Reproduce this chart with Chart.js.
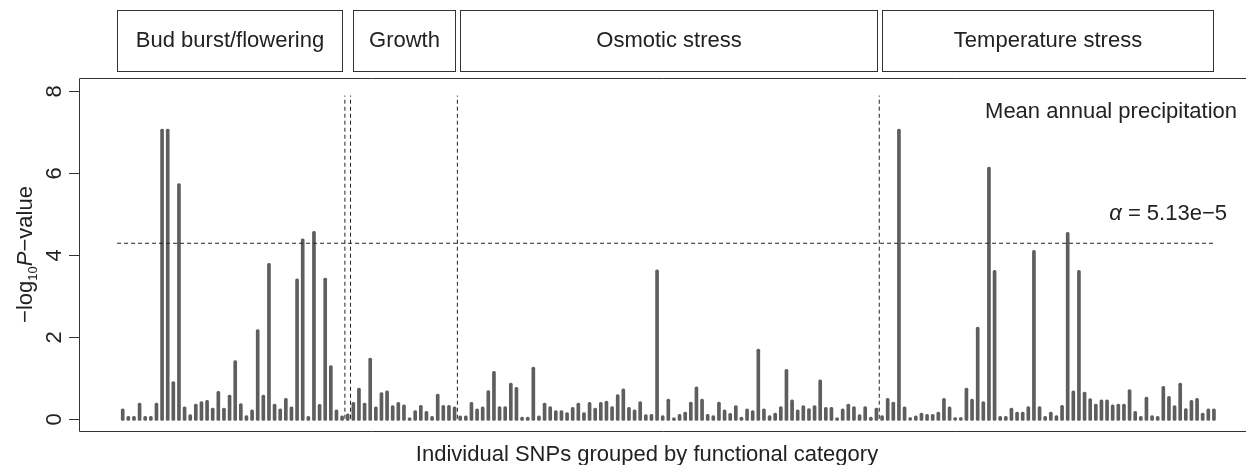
<!DOCTYPE html>
<html>
<head>
<meta charset="utf-8">
<script src="https://cdn.jsdelivr.net/npm/chart.js@4.4.1/dist/chart.umd.min.js"></script>
<style>
html, body { margin: 0; padding: 0; background: #fff; }
#wrap { width: 1246px; height: 465px; position: relative; }
</style>
</head>
<body>
<div id="wrap"><canvas id="snps"></canvas></div>
<script>
// -log10 P for each SNP, left to right
const logP = [
    0.24, 0.06, 0.06, 0.38, 0.06, 0.06, 0.38, 7.08, 7.08, 0.91,
    5.75, 0.29, 0.10, 0.36, 0.42, 0.45, 0.26, 0.67, 0.26, 0.58,
    1.42, 0.37, 0.08, 0.22, 2.18, 0.58, 3.80, 0.36, 0.24, 0.50,
    0.29, 3.42, 4.40, 0.06, 4.58, 0.35, 3.44, 1.30, 0.22, 0.07,
    0.12,
    0.40, 0.75, 0.38, 1.48, 0.29, 0.64, 0.68, 0.32, 0.40, 0.34,
    0.02, 0.20, 0.33, 0.18, 0.06, 0.60, 0.33, 0.33, 0.29,
    0.07, 0.07, 0.40, 0.24, 0.29, 0.69, 1.16, 0.30, 0.30, 0.87,
    0.77, 0.04, 0.04, 1.26, 0.07, 0.38, 0.30, 0.20, 0.20, 0.15,
    0.28, 0.38, 0.15, 0.40, 0.26, 0.40, 0.43, 0.30, 0.59, 0.73,
    0.28, 0.22, 0.42, 0.10, 0.11, 3.64, 0.08, 0.48, 0.02, 0.11,
    0.16, 0.41, 0.78, 0.48, 0.11, 0.08, 0.41, 0.22, 0.13, 0.32,
    0.04, 0.24, 0.20, 1.70, 0.24, 0.08, 0.14, 0.30, 1.21, 0.46,
    0.22, 0.32, 0.25, 0.32, 0.95, 0.28, 0.28, 0.02, 0.24, 0.36,
    0.30, 0.10, 0.30, 0.04, 0.26,
    0.08, 0.50, 0.41, 7.08, 0.29, 0.03, 0.07, 0.14, 0.11, 0.11,
    0.16, 0.50, 0.29, 0.03, 0.03, 0.75, 0.48, 2.24, 0.42, 6.15,
    3.63, 0.06, 0.06, 0.26, 0.16, 0.16, 0.30, 4.12, 0.30, 0.06,
    0.16, 0.08, 0.33, 4.56, 0.68, 3.63, 0.65, 0.49, 0.36, 0.46,
    0.46, 0.34, 0.36, 0.36, 0.71, 0.18, 0.06, 0.53, 0.08, 0.06,
    0.79, 0.55, 0.32, 0.87, 0.25, 0.45, 0.50, 0.14, 0.24, 0.24
];

const yTicks = [0, 2, 4, 6, 8];

// functional categories (in SNP index units)
const categoryNames = ['Bud burst/flowering', 'Growth', 'Osmotic stress', 'Temperature stress'];
const categoryStart = [-1, 40.9, 60, 135];
const categoryEnd = [39, 59.1, 134.1, 193.8];
const dividers = [39.5, 40.5, 59.5, 134.5];
const dividerTop = 7.9;

const alpha = 5.13e-5;
const thresholdSpan = [-1, 194];

const FONT = '"Liberation Sans", Arial, Helvetica, sans-serif';
const INK = '#222';

let threshold = -Math.log10(alpha);

let datasets = [{
    type: 'bar',
    data: logP.map((v, i) => ({ x: i, y: v })),
    backgroundColor: '#5e5e5e',
    barThickness: 3,
    borderRadius: 1.5,
    borderSkipped: false,
    base: -0.04,
    order: 2
}, {
    type: 'line',
    data: thresholdSpan.map(x => ({ x: x, y: threshold })),
    borderColor: INK,
    borderWidth: 1,
    borderDash: [4, 3],
    pointRadius: 0,
    order: 1
}];

dividers.forEach(d => {
    datasets.push({
        type: 'line',
        data: [{ x: d, y: 0 }, { x: d, y: dividerTop }],
        borderColor: INK,
        borderWidth: 1,
        borderDash: [4, 3],
        pointRadius: 0,
        order: 1
    });
});

function drawParts(ctx, parts, x, y) {
    parts.forEach(p => {
        ctx.font = p.font;
        ctx.fillText(p.text, x, y + (p.dy || 0));
        x += ctx.measureText(p.text).width;
    });
}

function partsWidth(ctx, parts) {
    let w = 0;
    parts.forEach(p => { ctx.font = p.font; w += ctx.measureText(p.text).width; });
    return w;
}

const decorations = {
    id: 'decorations',
    afterDraw(chart) {
        const { ctx, chartArea: a, scales } = chart;
        const x = scales.x, y = scales.y;
        ctx.save();
        ctx.strokeStyle = '#333';
        ctx.fillStyle = INK;
        ctx.lineWidth = 1;

        // plot box (right side runs off the picture)
        ctx.beginPath();
        ctx.moveTo(a.right + 2, a.top + 0.5);
        ctx.lineTo(a.left + 0.5, a.top + 0.5);
        ctx.lineTo(a.left + 0.5, a.bottom + 0.5);
        ctx.lineTo(a.right + 2, a.bottom + 0.5);
        ctx.stroke();

        // y axis ticks, labels rotated like R
        ctx.font = '22px ' + FONT;
        yTicks.forEach(t => {
            let py = Math.round(y.getPixelForValue(t)) + 0.5;
            ctx.beginPath();
            ctx.moveTo(a.left - 10, py);
            ctx.lineTo(a.left, py);
            ctx.stroke();
            ctx.save();
            ctx.translate(61, py);
            ctx.rotate(-Math.PI / 2);
            ctx.textAlign = 'center';
            ctx.fillText(String(t), 0, 0);
            ctx.restore();
        });

        // y title
        let yTitle = [
            { text: '\u2212log', font: '22px ' + FONT },
            { text: '10', font: '13px ' + FONT, dy: 5 },
            { text: 'P', font: 'italic 22px ' + FONT },
            { text: '\u2212value', font: '22px ' + FONT }
        ];
        ctx.save();
        ctx.translate(32, (a.top + a.bottom) / 2);
        ctx.rotate(-Math.PI / 2);
        ctx.textAlign = 'left';
        drawParts(ctx, yTitle, -partsWidth(ctx, yTitle) / 2, 0);
        ctx.restore();

        // x title
        ctx.font = '22px ' + FONT;
        ctx.textAlign = 'center';
        ctx.fillText('Individual SNPs grouped by functional category', 647, 461);

        // category header boxes
        categoryNames.forEach((name, i) => {
            let x0 = Math.round(x.getPixelForValue(categoryStart[i])) + 0.5;
            let x1 = Math.round(x.getPixelForValue(categoryEnd[i])) + 0.5;
            ctx.strokeRect(x0, 10.5, x1 - x0, 61);
            ctx.fillText(name, (x0 + x1) / 2, 47);
        });

        // annotations
        ctx.textAlign = 'right';
        ctx.fillText('Mean annual precipitation', 1237, 118);

        let alphaText = [
            { text: '\u03b1', font: 'italic 22px ' + FONT },
            { text: ' = 5.13e\u22125', font: '22px ' + FONT }
        ];
        ctx.textAlign = 'left';
        drawParts(ctx, alphaText, 1227 - partsWidth(ctx, alphaText), 220);

        ctx.restore();
    }
};

let ctx = document.getElementById('snps').getContext('2d');
let snpChart = new Chart(ctx, {
    type: 'bar',
    data: { datasets: datasets },
    options: {
        responsive: true,
        maintainAspectRatio: false,
        animation: false,
        layout: { padding: { left: 79, top: 78, right: 0, bottom: 34 } },
        scales: {
            x: { type: 'linear', min: -7.77, max: 199.7, offset: false, display: false },
            y: { type: 'linear', min: -0.3, max: 8.33, display: false }
        },
        plugins: {
            legend: { display: false },
            tooltip: { enabled: false }
        }
    },
    plugins: [decorations]
});
</script>
</body>
</html>
